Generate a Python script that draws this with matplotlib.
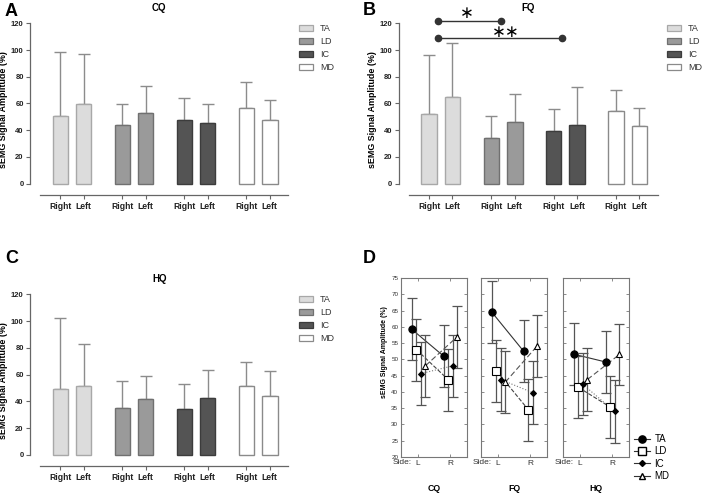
import matplotlib
matplotlib.use("Agg")
import matplotlib.pyplot as plt
from matplotlib.patches import Patch
from matplotlib.lines import Line2D
import numpy as np

plt.rcParams["font.family"] = ["Liberation Sans", "DejaVu Sans"]

muscles = ["TA", "LD", "IC", "MD"]
sides = ["Right", "Left"]

# bar panels: mean and SD, per muscle, right / left
cq_right = [50.6, 43.7, 47.7, 56.9]
cq_left = [59.4, 52.6, 45.4, 47.7]
cq_right_sd = [47.7, 15.7, 16.2, 19.4]
cq_left_sd = [37.4, 20.3, 14.5, 14.9]

fq_right = [52.4, 34.4, 39.7, 54.4]
fq_left = [64.6, 46.4, 43.9, 42.9]
fq_right_sd = [43.7, 16.2, 15.9, 15.5]
fq_left_sd = [40.9, 21.0, 28.2, 14.0]

hq_right = [49.2, 35.3, 34.0, 51.4]
hq_left = [51.7, 41.5, 42.7, 44.0]
hq_right_sd = [53.2, 19.6, 19.2, 17.7]
hq_left_sd = [31.5, 17.4, 20.7, 18.4]

# panel D: means with 95% CI half-width, order L, R
d_cq_mean = {"TA": [59.3, 51.0], "LD": [53.0, 43.7], "IC": [45.6, 48.0], "MD": [48.0, 57.0]}
d_fq_mean = {"TA": [64.6, 52.5], "LD": [46.5, 34.5], "IC": [43.8, 39.8], "MD": [43.0, 54.2]}
d_hq_mean = {"TA": [51.6, 49.2], "LD": [41.4, 35.3], "IC": [42.4, 34.0], "MD": [43.8, 51.5]}
d_ci = {"TA": [9.5, 9.5], "LD": [9.5, 9.5], "IC": [9.6, 9.6], "MD": [9.6, 9.5]}

fill = {"TA": "#dcdcdc", "LD": "#9a9a9a", "IC": "#545454", "MD": "#ffffff"}
edge = {"TA": "#a8a8a8", "LD": "#707070", "IC": "#3c3c3c", "MD": "#8a8a8a"}

W, H = 702, 494
fig = plt.figure(figsize=(W / 100, H / 100), dpi=100)


def px_axes(x0, y0, x1, y1):
    return fig.add_axes([x0 / W, 1 - y1 / H, (x1 - x0) / W, (y1 - y0) / H])


def bar_panel(ax, right, left, right_sd, left_sd, title):
    ticks, labels = [], []
    for g, m in enumerate(muscles):
        xs = [4 * g, 4 * g + 1.5]
        vals = [right[g], left[g]]
        sds = [right_sd[g], left_sd[g]]
        ax.errorbar(xs, vals, yerr=[[0, 0], sds], fmt="none", ecolor="#8c8c8c",
                    elinewidth=1, capsize=4.5, capthick=1, zorder=1)
        ax.bar(xs, vals, width=1, color=fill[m], edgecolor=edge[m], linewidth=1, zorder=2)
        ticks += xs
        labels += sides
    ax.set_xlim(-1.95, 14.7)
    ax.set_ylim(-8.5, 120)
    ax.set_yticks(np.arange(0, 121, 20))
    ax.set_xticks(ticks, labels)
    for s in ["top", "right"]:
        ax.spines[s].set_visible(False)
    ax.spines["left"].set_bounds(0, 120)
    ax.spines["bottom"].set_bounds(-1.28, 14.68)
    for s in ["left", "bottom"]:
        ax.spines[s].set_color("#666666")
        ax.spines[s].set_linewidth(0.9)
    ax.tick_params(axis="both", length=3, width=0.8, color="#666666", labelsize=5.5, pad=1.5)
    ax.tick_params(axis="x", labelsize=6.2, pad=2)
    for t in ax.get_xticklabels() + ax.get_yticklabels():
        t.set_fontweight("bold")
        t.set_color("#222222")
    ax.set_ylabel("sEMG Signal Amplitude (%)", fontsize=6.4, fontweight="bold", labelpad=2)
    ax.set_title(title, fontsize=7, fontweight="bold", pad=9)


def bar_legend(ax, x, y):
    handles = [Patch(facecolor=fill[m], edgecolor=edge[m], linewidth=0.9, label=m) for m in muscles]
    ax.legend(handles=handles, loc="upper left", bbox_to_anchor=(x / W, 1 - y / H),
              bbox_transform=fig.transFigure, frameon=False, fontsize=6.5,
              handlelength=1.6, handleheight=0.7, handletextpad=0.7, labelspacing=0.45,
              borderpad=0, borderaxespad=0, labelcolor="#333333")


ax_a = px_axes(30, 23.3, 288.4, 195)
bar_panel(ax_a, cq_right, cq_left, cq_right_sd, cq_left_sd, "CQ")
bar_legend(ax_a, 299, 24)

ax_b = px_axes(398.7, 23.3, 658, 195)
bar_panel(ax_b, fq_right, fq_left, fq_right_sd, fq_left_sd, "FQ")
bar_legend(ax_b, 667, 24)

ax_c = px_axes(30, 294.3, 288.4, 466.3)
bar_panel(ax_c, hq_right, hq_left, hq_right_sd, hq_left_sd, "HQ")
bar_legend(ax_c, 299, 295)

# significance marks on FQ
ax_b.plot([0.6, 4.6], [121.8, 121.8], "-o", color="#333333", lw=1, ms=4.5, clip_on=False)
ax_b.plot([0.6, 8.55], [108.8, 108.8], "-o", color="#333333", lw=1, ms=4.5, clip_on=False)
ax_b.text(2.45, 127.7, "\u2217", fontsize=12, ha="center", va="center", family="DejaVu Sans")
ax_b.text(4.95, 113.5, "\u2217\u2217", fontsize=12, ha="center", va="center", family="DejaVu Sans")

# panel D
offsets = {"TA": -0.2, "LD": -0.05, "IC": 0.08, "MD": 0.23}
markers = {"TA": ("o", 5.2, "black"), "LD": ("s", 5.2, "white"),
           "IC": ("D", 3.0, "black"), "MD": ("^", 5.0, "white")}
lstyles = {"TA": ("-", "#333333"), "LD": ("--", "#444444"),
           "IC": (":", "#777777"), "MD": ((0, (5, 2.5)), "#555555")}

d_sets = [("CQ", d_cq_mean, 401), ("FQ", d_fq_mean, 481), ("HQ", d_hq_mean, 563)]
d_axes = []
for name, means, x0 in d_sets:
    ax = px_axes(x0, 278, x0 + 66, 457)
    for m in muscles:
        xs = np.array([0, 1]) + offsets[m]
        mk, ms, fc = markers[m]
        ls, lc = lstyles[m]
        ax.plot(xs, means[m], linestyle=ls, color=lc, lw=0.8, zorder=2)
        ax.errorbar(xs, means[m], yerr=d_ci[m], fmt="none", ecolor="#555555",
                    elinewidth=0.9, capsize=3.5, capthick=0.9, zorder=3)
        ax.plot(xs, means[m], linestyle="none", marker=mk, ms=ms, mfc=fc, mec="black",
                mew=0.8, zorder=4)
    ax.set_xlim(-0.53, 1.53)
    ax.set_ylim(20, 75)
    ax.set_yticks(np.arange(20, 76, 5))
    ax.set_xticks([0, 1], ["L", "R"])
    ax.tick_params(direction="in", top=True, right=True, length=2, width=0.6,
                   color="#777777", labelsize=6, labelcolor="#333333", pad=2)
    ax.tick_params(axis="y", labelsize=4.5)
    for s in ax.spines.values():
        s.set_color("#777777")
        s.set_linewidth(0.8)
    ax.text(-0.2, -0.012, "Side:", transform=ax.get_xaxis_transform(), ha="right", va="top",
            fontsize=6, color="#333333")
    ax.text(0.5, -0.177, name, transform=ax.transAxes, ha="center", va="center",
            fontsize=6.3, fontweight="bold")
    if d_axes:
        ax.tick_params(axis="y", labelleft=False)
    d_axes.append(ax)

fig.text(384 / W, 1 - 352 / H, "sEMG Signal Amplitude (%)", rotation=90, ha="center",
         va="center", fontsize=5, fontweight="bold")

d_handles = []
for m in muscles:
    mk, ms, fc = markers[m]
    d_handles.append(Line2D([], [], color="#333333", lw=0.8, marker=mk, ms=ms, mfc=fc,
                            mec="black", label=m))
d_axes[-1].legend(handles=d_handles, loc="upper left", bbox_to_anchor=(634 / W, 1 - 434 / H),
                  bbox_transform=fig.transFigure, frameon=False, fontsize=7,
                  handlelength=1.6, handletextpad=0.5, labelspacing=0.25,
                  borderpad=0, borderaxespad=0)

for letter, x, y in [("A", 5, 3), ("B", 363, 2), ("C", 5, 250), ("D", 363, 250)]:
    fig.text(x / W, 1 - y / H, letter, fontsize=13, fontweight="bold", ha="left", va="top")

fig.savefig("out.png", dpi=100)
